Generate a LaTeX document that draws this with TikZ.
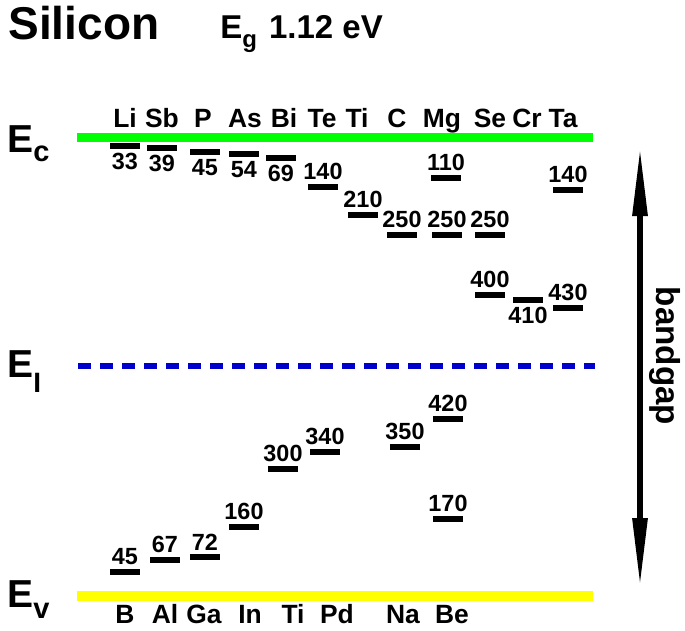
\documentclass[tikz,border=0pt]{standalone}
\usepackage{fontspec}
\setmainfont{Liberation Sans}
\usetikzlibrary{arrows.meta, positioning}
\definecolor{bandgreen}{HTML}{00FF00}
\definecolor{bandblue}{HTML}{0000CC}
\definecolor{bandyellow}{HTML}{FFFF00}
\tikzset{
  lvl/.style={fill=black, inner sep=0pt, minimum width=15pt, minimum height=2.8pt},
  num/.style={font=\fontsize{11.7}{12}\selectfont\bfseries, inner sep=0pt},
  elem/.style={font=\fontsize{13.2}{14}\selectfont\bfseries, anchor=base, inner sep=0pt},
  elab/.style={font=\fontsize{19.5}{20}\selectfont\bfseries, anchor=base west, inner sep=0pt},
  label distance=1.7pt
}
\newcommand{\lowsub}[3]{\raisebox{-#1}{\fontsize{#2}{#2}\selectfont #3}}

\begin{document}
\begin{tikzpicture}[x=0.5pt, y=-0.5pt]
  \useasboundingbox (0,0) rectangle (685,631);

  % Title
  \node[anchor=base west, inner sep=0pt, font=\fontsize{23}{24}\selectfont\bfseries] (title) at (8,40) {Silicon};
  \node[anchor=base west, inner sep=0pt, font=\fontsize{16.5}{17}\selectfont\bfseries] (eg) at (220,39) {E\lowsub{4.5pt}{12}{g}\hspace{6pt}1.12 eV};

  % Band edges and intrinsic level
  \draw[bandgreen, line width=4.5pt] (77,137.5) -- (593,137.5);
  \draw[bandblue, line width=3pt, dash pattern=on 6.5pt off 4.5pt] (78,366) -- (595,366);
  \draw[bandyellow, line width=5pt] (77,596) -- (593,596);
  \node[elab] (ec) at (7,153) {E\lowsub{4.5pt}{14.5}{c}};
  \node[elab] (ei) at (7,377) {E\lowsub{7.5pt}{14}{I}};
  \node[elab] (ev) at (7,607) {E\lowsub{5.5pt}{14.5}{v}};

  % Donors
  \node[elem] (e-li) at (125,127) {Li};
  \node[elem] (e-sb) at (162,127) {Sb};
  \node[elem] (e-p)  at (203,127) {P};
  \node[elem] (e-as) at (245,127) {As};
  \node[elem] (e-bi) at (284,127) {Bi};
  \node[elem] (e-te) at (322,127) {Te};
  \node[elem] (e-ti) at (357,127) {Ti};
  \node[elem] (e-c)  at (397,127) {C};
  \node[elem] (e-mg) at (442,127) {Mg};
  \node[elem] (e-se) at (490,127) {Se};
  \node[elem] (e-cr) at (527,127) {Cr};
  \node[elem] (e-ta) at (563,127) {Ta};

  \node[lvl, label={[num, name=n-li]below:33}] (l-li) at (125,146) {};
  \node[lvl, label={[num, name=n-sb]below:39}] (l-sb) at (162,148) {};
  \node[lvl, label={[num, name=n-p]below:45}]  (l-p)  at (205,152) {};
  \node[lvl, label={[num, name=n-as]below:54}] (l-as) at (244,154) {};
  \node[lvl, label={[num, name=n-bi]below:69}] (l-bi) at (281,158) {};
  \node[lvl, label={[num, name=n-te]above:140}] (l-te) at (323,187) {};
  \node[lvl, label={[num, name=n-ti]above:210}] (l-ti) at (363,215) {};
  \node[lvl, label={[num, name=n-c]above:250}]  (l-c)  at (402,235) {};
  \node[lvl, label={[num, name=n-mg1]above:110}] (l-mg1) at (446,178) {};
  \node[lvl, label={[num, name=n-mg2]above:250}] (l-mg2) at (447,235) {};
  \node[lvl, label={[num, name=n-se1]above:250}] (l-se1) at (490,235) {};
  \node[lvl, label={[num, name=n-se2]above:400}] (l-se2) at (490,295) {};
  \node[lvl, label={[num, name=n-cr]below:410}]  (l-cr)  at (528,300) {};
  \node[lvl, label={[num, name=n-ta1]above:140}] (l-ta1) at (568,190) {};
  \node[lvl, label={[num, name=n-ta2]above:430}] (l-ta2) at (568,308) {};

  % Acceptors
  \node[elem] (e-b)   at (125,623) {B};
  \node[elem] (e-al)  at (165,623) {Al};
  \node[elem] (e-ga)  at (204,623) {Ga};
  \node[elem] (e-in)  at (250,623) {In};
  \node[elem] (e-tia) at (293,623) {Ti};
  \node[elem] (e-pd)  at (337,623) {Pd};
  \node[elem] (e-na)  at (403,623) {Na};
  \node[elem] (e-be)  at (452,623) {Be};

  \node[lvl, label={[num, name=n-b]above:45}]   (l-b)   at (125,572) {};
  \node[lvl, label={[num, name=n-al]above:67}]  (l-al)  at (165,560) {};
  \node[lvl, label={[num, name=n-ga]above:72}]  (l-ga)  at (205,557) {};
  \node[lvl, label={[num, name=n-in]above:160}] (l-in)  at (244,527) {};
  \node[lvl, label={[num, name=n-tia]above:300}] (l-tia) at (283,469) {};
  \node[lvl, label={[num, name=n-pd]above:340}] (l-pd)  at (325,452) {};
  \node[lvl, label={[num, name=n-na]above:350}] (l-na)  at (405,447) {};
  \node[lvl, label={[num, name=n-be1]above:420}] (l-be1) at (448,419) {};
  \node[lvl, label={[num, name=n-be2]above:170}] (l-be2) at (448,519) {};

  % Bandgap arrow
  \coordinate (gtop) at (640,146);
  \coordinate (gbot) at (640,588);
  \draw[line width=3pt, {Triangle[length=35pt,width=7pt]}-{Triangle[length=35pt,width=7pt]}] (gtop) -- (gbot);
  \node[rotate=-90, font=\fontsize{16.6}{17}\selectfont\bfseries] (bandgap) at (665,356) {bandgap};
\end{tikzpicture}
\end{document}
